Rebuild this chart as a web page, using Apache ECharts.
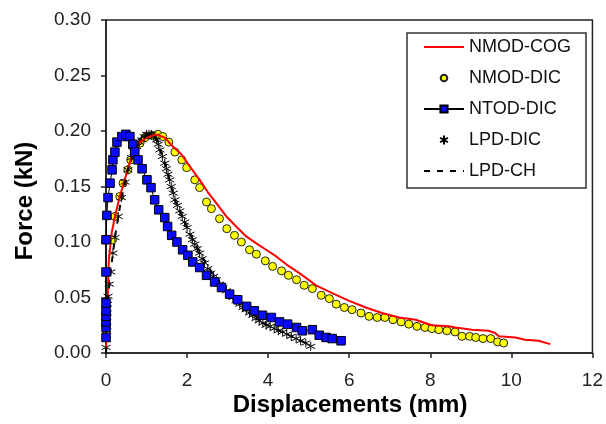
<!DOCTYPE html>
<html><head><meta charset="utf-8">
<script src="https://cdn.jsdelivr.net/npm/echarts@6/dist/echarts.min.js"></script>
<style>html,body{margin:0;padding:0;background:#fff}#c{width:606px;height:424px}</style>
</head><body><div id="c"></div>
<script>
const seriesNames = ['NMOD-COG', 'NMOD-DIC', 'NTOD-DIC', 'LPD-DIC', 'LPD-CH'];
const xTicks = [0, 2, 4, 6, 8, 10, 12];
const yTicks = [0.00, 0.05, 0.10, 0.15, 0.20, 0.25, 0.30];

const nmodCogX = [0, 0.02, 0.04, 0.07, 0.14, 0.22, 0.34, 0.51, 0.63, 0.84, 1.0, 1.25, 1.45, 1.65, 1.86, 2.07, 2.31, 2.51, 2.72, 2.97, 3.21, 3.46, 3.70, 3.95, 4.20, 4.52, 4.77, 5.18, 5.58, 6.0, 6.41, 6.81, 7.23, 7.64, 8.04, 8.46, 8.62, 9.03, 9.44, 9.6, 9.69, 10.1, 10.34, 10.67, 10.96];
const nmodCogY = [0, 0.03, 0.051, 0.084, 0.108, 0.123, 0.141, 0.162, 0.177, 0.190, 0.194, 0.197, 0.194, 0.186, 0.179, 0.168, 0.156, 0.145, 0.135, 0.123, 0.114, 0.105, 0.099, 0.093, 0.087, 0.078, 0.072, 0.061, 0.054, 0.047, 0.041, 0.036, 0.032, 0.030, 0.025, 0.024, 0.023, 0.021, 0.020, 0.018, 0.015, 0.014, 0.012, 0.011, 0.008];

const nmodDicX = [0.16, 0.22, 0.34, 0.42, 0.54, 0.61, 0.71, 0.84, 0.96, 1.13, 1.28, 1.40, 1.55, 1.70, 1.87, 1.99, 2.19, 2.31, 2.48, 2.60, 2.80, 2.98, 3.17, 3.34, 3.54, 3.71, 3.93, 4.11, 4.33, 4.50, 4.70, 4.89, 5.09, 5.31, 5.51, 5.68, 5.88, 6.07, 6.29, 6.49, 6.69, 6.88, 7.08, 7.28, 7.47, 7.67, 7.87, 8.04, 8.21, 8.41, 8.61, 8.78, 8.97, 9.12, 9.30, 9.49, 9.66, 9.81];
const nmodDicY = [0.102, 0.123, 0.141, 0.153, 0.165, 0.174, 0.183, 0.189, 0.194, 0.196, 0.197, 0.195, 0.190, 0.181, 0.174, 0.167, 0.156, 0.149, 0.136, 0.130, 0.121, 0.112, 0.106, 0.100, 0.093, 0.089, 0.083, 0.078, 0.074, 0.070, 0.066, 0.061, 0.058, 0.052, 0.049, 0.044, 0.041, 0.039, 0.036, 0.033, 0.032, 0.032, 0.030, 0.028, 0.026, 0.024, 0.023, 0.022, 0.021, 0.020, 0.019, 0.015, 0.015, 0.014, 0.013, 0.013, 0.010, 0.009];

const ntodDicX = [0, 0, 0, 0, 0, 0, 0, 0, 0.02, 0.05, 0.10, 0.15, 0.17, 0.22, 0.27, 0.39, 0.49, 0.59, 0.66, 0.71, 0.79, 0.89, 1.01, 1.11, 1.20, 1.30, 1.45, 1.52, 1.62, 1.75, 1.89, 2.02, 2.14, 2.31, 2.48, 2.68, 2.85, 3.05, 3.25, 3.47, 3.66, 3.86, 4.08, 4.28, 4.48, 4.70, 4.84, 5.09, 5.26, 5.43, 5.58, 5.80];
const ntodDicY = [0.014, 0.023, 0.028, 0.033, 0.038, 0.045, 0.073, 0.102, 0.124, 0.140, 0.153, 0.165, 0.174, 0.181, 0.190, 0.195, 0.197, 0.195, 0.188, 0.181, 0.174, 0.166, 0.156, 0.149, 0.138, 0.129, 0.122, 0.114, 0.106, 0.100, 0.093, 0.088, 0.082, 0.077, 0.070, 0.064, 0.059, 0.053, 0.048, 0.042, 0.038, 0.034, 0.032, 0.028, 0.026, 0.023, 0.020, 0.021, 0.016, 0.014, 0.013, 0.011];

const lpdDicX = [0.00, 0.01, 0.02, 0.02, 0.03, 0.04, 0.05, 0.08, 0.12, 0.17, 0.22, 0.30, 0.38, 0.47, 0.54, 0.63, 0.69, 0.75, 0.82, 0.88, 0.94, 1.00, 1.06, 1.12, 1.18, 1.25, 1.29, 1.33, 1.39, 1.45, 1.49, 1.53, 1.57, 1.61, 1.66, 1.70, 1.76, 1.82, 1.88, 1.94, 2.00, 2.07, 2.13, 2.19, 2.25, 2.31, 2.37, 2.43, 2.51, 2.58, 2.65, 2.72, 2.80, 2.88, 2.97, 3.05, 3.13, 3.21, 3.30, 3.38, 3.46, 3.54, 3.62, 3.70, 3.78, 3.87, 3.95, 4.05, 4.15, 4.25, 4.36, 4.46, 4.57, 4.69, 4.80, 4.93, 5.05];
const lpdDicY = [0.005, 0.012, 0.020, 0.028, 0.036, 0.044, 0.051, 0.062, 0.073, 0.090, 0.104, 0.123, 0.140, 0.154, 0.165, 0.176, 0.181, 0.186, 0.190, 0.192, 0.195, 0.197, 0.197, 0.197, 0.195, 0.192, 0.188, 0.183, 0.177, 0.171, 0.166, 0.161, 0.156, 0.150, 0.144, 0.138, 0.133, 0.128, 0.123, 0.118, 0.113, 0.107, 0.102, 0.098, 0.094, 0.090, 0.085, 0.081, 0.076, 0.072, 0.069, 0.066, 0.062, 0.059, 0.056, 0.053, 0.050, 0.047, 0.044, 0.041, 0.039, 0.036, 0.034, 0.031, 0.029, 0.027, 0.025, 0.024, 0.022, 0.020, 0.019, 0.017, 0.015, 0.013, 0.011, 0.009, 0.006];

const lpdChX = [0, 0.05, 0.12, 0.22, 0.38, 0.54, 0.75, 1.0, 1.12, 1.25, 1.45, 1.70, 2.0, 2.31, 2.72, 3.05, 3.46, 3.95, 4.46, 4.93];
const lpdChY = [0, 0.050, 0.075, 0.104, 0.140, 0.165, 0.186, 0.196, 0.197, 0.192, 0.171, 0.138, 0.113, 0.090, 0.066, 0.053, 0.040, 0.026, 0.017, 0.009];

const zip = (xs, ys) => xs.map((x, i) => [x, ys[i]]);
const FONT = '"Liberation Sans", Arial, sans-serif';
const asteriskPath = 'path://M5 0L5 10M0.67 2.5L9.33 7.5M0.67 7.5L9.33 2.5';
const smallCircleIcon = 'path://M0 0M9 9M7.8 4.5A3.3 3.3 0 1 1 1.2 4.5A3.3 3.3 0 1 1 7.8 4.5Z';

const chart = echarts.init(document.getElementById('c'), null, {renderer: 'canvas'});
chart.setOption({
  animation: false,
  backgroundColor: '#fff',
  grid: {left: 106, right: 12, top: 20, bottom: 71, show: true, borderColor: '#222', borderWidth: 1.5, backgroundColor: 'transparent'},
  xAxis: {
    type: 'value', min: xTicks[0], max: xTicks[xTicks.length - 1], interval: xTicks[1] - xTicks[0],
    axisLine: {onZero: false, lineStyle: {color: '#222', width: 1.5}},
    axisTick: {show: true, inside: false, length: 5, lineStyle: {color: '#222', width: 1.5}},
    axisLabel: {margin: 18, fontFamily: FONT, fontSize: 19, color: '#222', formatter: v => String(v)},
    splitLine: {show: false}
  },
  yAxis: {
    type: 'value', min: yTicks[0], max: yTicks[yTicks.length - 1], interval: yTicks[1] - yTicks[0],
    axisLine: {onZero: false, lineStyle: {color: '#222', width: 1.5}},
    axisTick: {show: true, inside: false, length: 5, lineStyle: {color: '#222', width: 1.5}},
    axisLabel: {margin: 15, fontFamily: FONT, fontSize: 19, color: '#222', formatter: v => v.toFixed(2)},
    splitLine: {show: false}
  },
  legend: {
    orient: 'vertical', left: 407, top: 33,
    padding: [5, 15, 8, 16],
    itemWidth: 40, itemHeight: 9, itemGap: 13,
    backgroundColor: '#fff', borderColor: '#333', borderWidth: 1.5,
    textStyle: {fontFamily: FONT, fontSize: 18, color: '#111'},
    data: [
      {name: seriesNames[0]},
      {name: seriesNames[1], icon: smallCircleIcon},
      {name: seriesNames[2]},
      {name: seriesNames[3]},
      {name: seriesNames[4]}
    ]
  },
  graphic: [
    {type: 'text', x: 25, y: 201, rotation: Math.PI / 2,
     style: {text: 'Force (kN)', textAlign: 'center', textVerticalAlign: 'middle', font: 'bold 24px "Liberation Sans", Arial, sans-serif', fill: '#000'}},
    {type: 'text', x: 350, y: 405,
     style: {text: 'Displacements (mm)', textAlign: 'center', textVerticalAlign: 'middle', font: 'bold 24px "Liberation Sans", Arial, sans-serif', fill: '#000'}}
  ],
  series: [
    {name: seriesNames[0], type: 'line', data: zip(nmodCogX, nmodCogY), symbol: 'none',
     lineStyle: {color: '#ff0000', width: 2}, itemStyle: {color: 'rgba(0,0,0,0)', borderColor: 'rgba(0,0,0,0)'}},
    {name: seriesNames[1], type: 'scatter', data: zip(nmodDicX, nmodDicY), symbol: 'circle', symbolSize: 8,
     itemStyle: {color: '#ffff00', borderColor: '#222', borderWidth: 1, opacity: 1}},
    {name: seriesNames[2], type: 'line', data: zip(ntodDicX, ntodDicY), symbol: 'rect', symbolSize: 8.5, showAllSymbol: true,
     lineStyle: {color: '#000', width: 1}, itemStyle: {color: '#0a0aff', borderColor: '#000', borderWidth: 1}},
    {name: seriesNames[3], type: 'scatter', data: zip(lpdDicX, lpdDicY), symbol: asteriskPath, symbolSize: 9,
     itemStyle: {color: '#000', borderColor: '#000', borderWidth: 1, opacity: 1}},
    {name: seriesNames[4], type: 'line', data: zip(lpdChX, lpdChY), symbol: 'none',
     lineStyle: {color: '#000', width: 2, type: [6, 7]}, itemStyle: {color: 'rgba(0,0,0,0)', borderColor: 'rgba(0,0,0,0)'}}
  ]
});
</script>
</body></html>
